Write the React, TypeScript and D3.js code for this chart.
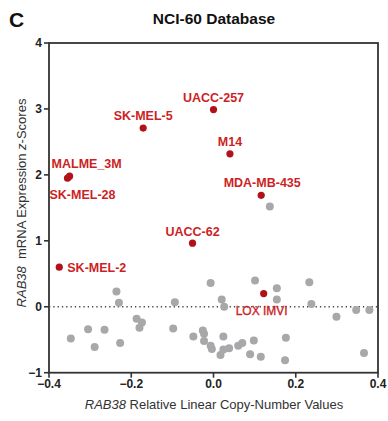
import * as React from 'react';
import * as d3 from 'd3';

// labelled cell lines (red)
const cellLines = ['UACC-257', 'SK-MEL-5', 'M14', 'MDA-MB-435', 'MALME_3M', 'SK-MEL-28', 'UACC-62', 'SK-MEL-2', 'LOX IMVI'];
const cellCopy = [0.0, -0.171, 0.04, 0.116, -0.35, -0.355, -0.051, -0.375, 0.122];
const cellExpr = [2.99, 2.71, 2.32, 1.69, 1.98, 1.95, 0.965, 0.6, 0.2];

// the other lines (grey)
const otherCopy = [
  -0.347, -0.305, -0.289, -0.265, -0.236, -0.23, -0.227, -0.187, -0.174, -0.18,
  -0.094, -0.098, -0.049, -0.007, -0.026, -0.023, -0.023, -0.007, -0.004, 0.017,
  0.024, 0.038, 0.024, 0.02, 0.026, 0.06, 0.07, 0.098, 0.089, 0.115,
  0.101, 0.154, 0.154, 0.176, 0.174, 0.233, 0.238, 0.299, 0.347, 0.379,
  0.366, 0.137,
];
const otherExpr = [
  -0.48, -0.34, -0.61, -0.35, 0.23, 0.06, -0.55, -0.18, -0.24, -0.32,
  0.07, -0.33, -0.45, 0.36, -0.36, -0.41, -0.52, -0.59, -0.64, -0.73,
  -0.65, -0.63, -0.45, 0.11, 0.0, -0.59, -0.55, -0.51, -0.72, -0.76,
  0.4, 0.28, 0.11, -0.47, -0.81, 0.37, 0.04, -0.15, -0.05, -0.05,
  -0.7, 1.52,
];

const xTicks = [-0.4, -0.2, 0.0, 0.2, 0.4];
const yTicks = [-1, 0, 1, 2, 3, 4];

// label placement: dx, dy, anchor, bold
const labelPos: Record<string, [number, number, string, boolean]> = {
  'UACC-257': [0, -8, 'middle', true],
  'SK-MEL-5': [0, -8, 'middle', true],
  'M14': [0, -8, 'middle', true],
  'MDA-MB-435': [1, -8, 'middle', true],
  'MALME_3M': [-18, -8, 'start', true],
  'SK-MEL-28': [-18, 21, 'start', true],
  'UACC-62': [0, -7, 'middle', true],
  'SK-MEL-2': [8, 5, 'start', true],
  'LOX IMVI': [-2, 21, 'middle', false],
};

export default function App() {
  const x = d3.scaleLinear().domain([-0.4, 0.4]).range([49, 378]);
  const y = d3.scaleLinear().domain([-1, 4]).range([372.7, 43]);
  const axisCol = '#333';
  const font = 'Liberation Sans, Arial, sans-serif';

  return (
    <svg width={388} height={421} style={{ position: 'absolute', left: 0, top: 0, display: 'block' }} fontFamily={font}>
      <rect width={388} height={421} fill="#fff" />
      <text x={9} y={26.5} fontSize={21} fontWeight="bold" fill="#111">C</text>
      <text x={214} y={24} fontSize={15.5} fontWeight="bold" textAnchor="middle" fill="#111">NCI-60 Database</text>

      {/* frame */}
      <rect x={x(-0.4)} y={y(4)} width={x(0.4) - x(-0.4)} height={y(-1) - y(4)} fill="none" stroke={axisCol} strokeWidth={1.8} />

      {/* zero line */}
      <line x1={x(-0.4)} x2={x(0.4)} y1={y(0)} y2={y(0)} stroke="#444" strokeWidth={1.3} strokeDasharray="1.3,3" />

      {/* y ticks */}
      {yTicks.map(t => (
        <g key={'y' + t}>
          <line x1={x(-0.4) - 5} x2={x(-0.4)} y1={y(t)} y2={y(t)} stroke={axisCol} strokeWidth={1.6} />
          <text x={x(-0.4) - 7} y={y(t)} dy="0.35em" fontSize={12} fontWeight="bold" textAnchor="end" fill="#222">{d3.format('d')(t)}</text>
        </g>
      ))}

      {/* x ticks */}
      {xTicks.map(t => (
        <g key={'x' + t}>
          <line x1={x(t)} x2={x(t)} y1={y(-1)} y2={y(-1) + 5} stroke={axisCol} strokeWidth={1.6} />
          <text x={x(t)} y={388} fontSize={12} fontWeight="bold" textAnchor="middle" fill="#222">{d3.format('.1f')(t)}</text>
        </g>
      ))}

      {/* axis titles */}
      <text x={214} y={409} fontSize={13} textAnchor="middle" fill="#333">
        <tspan fontStyle="italic">RAB38</tspan> Relative Linear Copy-Number Values
      </text>
      <text transform="translate(26,203) rotate(-90)" fontSize={13} textAnchor="middle" fill="#333">
        <tspan fontStyle="italic">RAB38</tspan>{'\u00a0 mRNA Expression '}<tspan fontStyle="italic">z</tspan>-Scores
      </text>

      {/* grey points */}
      {otherCopy.map((c, i) => (
        <circle key={'o' + i} cx={x(c)} cy={y(otherExpr[i])} r={4} fill="#a8a8aa" />
      ))}

      {/* red points */}
      {cellLines.map((name, i) => (
        <circle key={'c' + name} cx={x(cellCopy[i])} cy={y(cellExpr[i])} r={3.6} fill="#b3111a" />
      ))}
      {cellLines.map((name, i) => {
        const [dx, dy, anchor, bold] = labelPos[name];
        return (
          <text key={'l' + name} x={x(cellCopy[i]) + dx} y={y(cellExpr[i]) + dy} fontSize={bold ? 12.5 : 12}
            fontWeight={bold ? 'bold' : 'normal'} textAnchor={anchor as any} fill="#cc1f26"
            stroke={bold ? 'none' : '#cc1f26'} strokeWidth={bold ? 0 : 0.35}>{name}</text>
        );
      })}
    </svg>
  );
}
